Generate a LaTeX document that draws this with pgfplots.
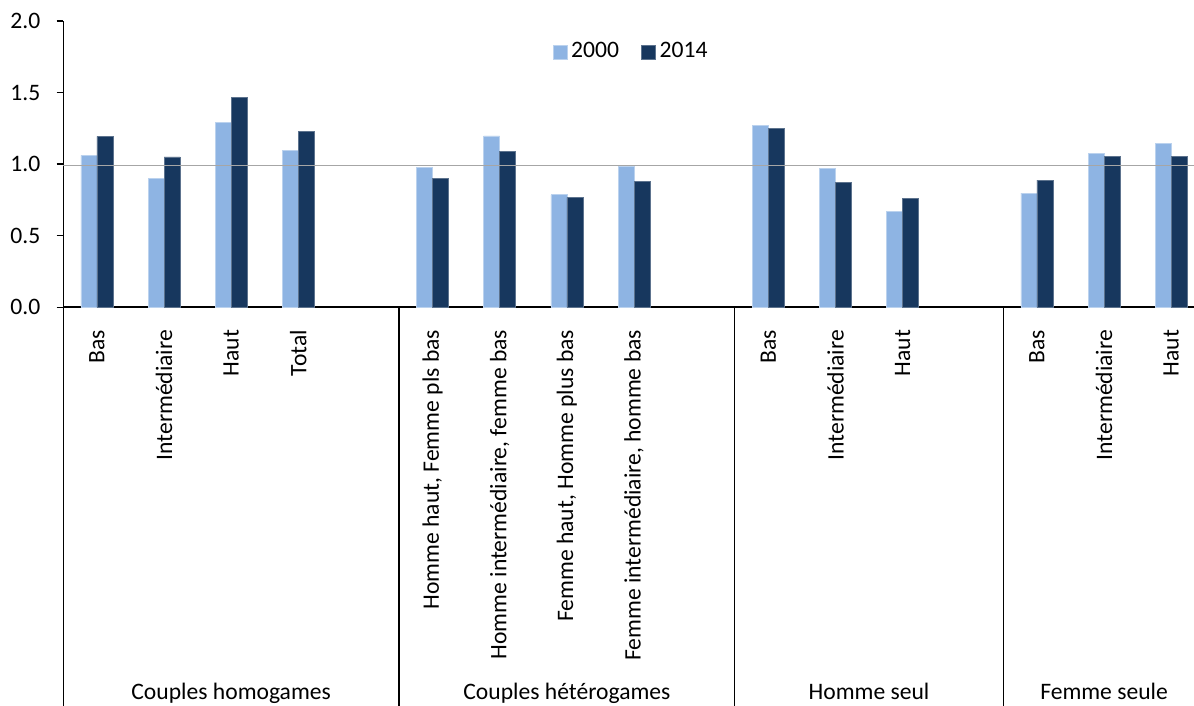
\documentclass[border=0pt]{standalone}
\usepackage{pgfplots}
\pgfplotsset{compat=1.18}
\usepackage{fontspec}
\setmainfont{Carlito}
\definecolor{cA}{HTML}{8EB4E3}
\definecolor{cB}{HTML}{17375E}
\definecolor{gl}{HTML}{A6A6A6}
\newcommand\fs{\fontsize{11.8pt}{14pt}\selectfont}
\begin{document}
\fs
\begin{tikzpicture}
\begin{axis}[
  at={(31.65pt,199.35pt)}, anchor=south west,
  scale only axis, width=565.35pt, height=143.15pt,
  xmin=-0.5, xmax=16.34, ymin=0, ymax=2,
  axis lines*=left,
  axis line style={line width=0.8pt, black},
  ybar=0pt, bar width=8pt,
  clip=false,
  ytick={0,0.5,1,1.5,2},
  tick align=outside, major tick length=3.3pt,
  ytick style={line width=0.7pt, black},
  xtick style={draw=none},
  /pgf/number format/.cd, fixed, fixed zerofill, precision=1, assume math mode=true,
  /pgfplots/.cd,
  yticklabel style={anchor=east, inner sep=0pt, xshift=-8pt, font=\fs},
  xtick={0,1,2,3,5,6,7,8,10,11,12,14,15,16},
  xticklabels={Bas,Intermédiaire,Haut,Total,{Homme haut, Femme pls bas},{Homme intermédiaire, femme bas},{Femme haut, Homme plus bas},{Femme intermédiaire, homme bas},Bas,Intermédiaire,Haut,Bas,Intermédiaire,Haut},
  xticklabel style={anchor=east, inner sep=0pt, yshift=-7.85pt, rotate=90, font=\fs},
  legend style={at={(0.503,0.892)}, anchor=center, draw=none, fill=none, legend columns=2,
    font=\fs,
    /tikz/every even column/.append style={column sep=9pt}},
  legend image code/.code={\fill[#1] (0pt,-3.5pt) rectangle (7pt,3.5pt);},
]
\addplot[fill=cA, draw=cA!60!white, line width=0.3pt] coordinates {
 (0,1.061) (1,0.898) (2,1.294) (3,1.098)
 (5,0.975) (6,1.198) (7,0.786) (8,0.987)
 (10,1.271) (11,0.973) (12,0.670)
 (14,0.798) (15,1.073) (16,1.145)};
\addplot[fill=cB, draw=cB!70!white, line width=0.3pt] coordinates {
 (0,1.194) (1,1.050) (2,1.466) (3,1.231)
 (5,0.901) (6,1.089) (7,0.768) (8,0.877)
 (10,1.250) (11,0.873) (12,0.763)
 (14,0.889) (15,1.054) (16,1.054)};
\legend{2000,2014}
\draw[gl, line width=0.9pt] (axis cs:-0.5,0.99) -- (axis cs:16.34,0.99);
\draw[black, line width=0.8pt] (axis cs:-0.5,0) -- ([yshift=-199.35pt]axis cs:-0.5,0);
\draw[black, line width=0.7pt] (axis cs:4.5,0) -- ([yshift=-199.35pt]axis cs:4.5,0);
\draw[black, line width=0.7pt] (axis cs:9.5,0) -- ([yshift=-199.35pt]axis cs:9.5,0);
\draw[black, line width=0.7pt] (axis cs:13.5,0) -- ([yshift=-199.35pt]axis cs:13.5,0);
\node[anchor=base] at ([yshift=-195.85pt]axis cs:2,0) {Couples homogames};
\node[anchor=base] at ([yshift=-195.85pt]axis cs:7,0) {Couples hétérogames};
\node[anchor=base] at ([yshift=-195.85pt]axis cs:11.5,0) {Homme seul};
\node[anchor=base] at ([yshift=-195.85pt]axis cs:15,0) {Femme seule};
\end{axis}
\pgfresetboundingbox
\path (0,0) rectangle (597pt,353pt);
\end{tikzpicture}
\end{document}
